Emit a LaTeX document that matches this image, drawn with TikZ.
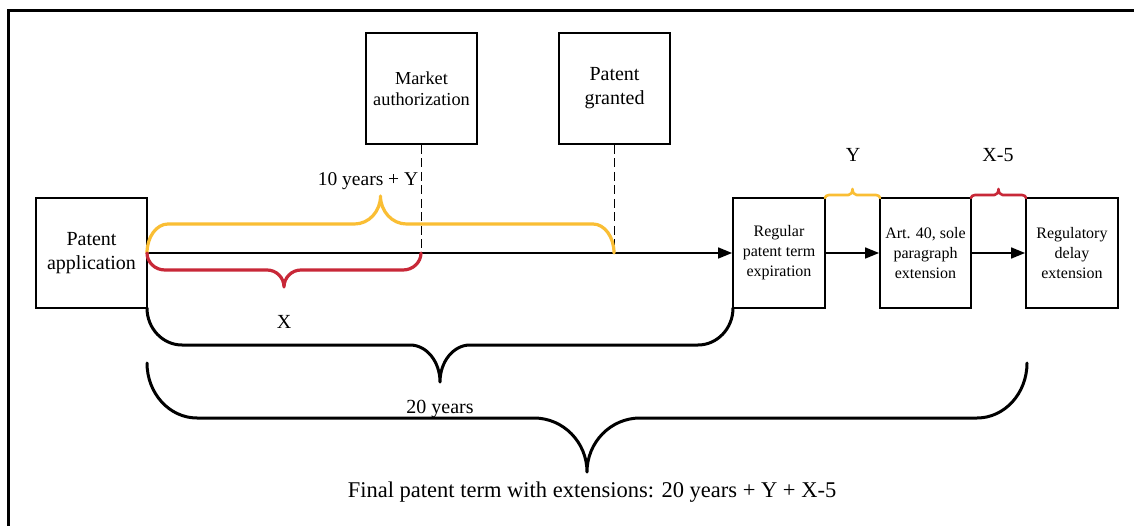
\documentclass[tikz,border=0pt]{standalone}
\usepackage{fontspec}
\setmainfont{Liberation Serif}
\usetikzlibrary{arrows.meta}
\definecolor{braceyellow}{RGB}{250,190,52}
\definecolor{bracered}{RGB}{200,40,56}
\newcommand\curlybrace[9]{% #1 style, #2 x1, #3 x2, #4 y ends, #5 y flat, #6 y tip, #7 corner r, #8 tip half width, #9 width
  \pgfmathsetmacro\cbxm{(#2+#3)/2}%
  \pgfmathsetmacro\cbA{#4+0.552*(#5-#4)}%
  \pgfmathsetmacro\cbB{#5+0.448*(#6-#5)}%
  \draw[brace,line width=#9,#1] (#2,#4) .. controls (#2,\cbA) and ({#2+0.448*#7},#5) .. ({#2+#7},#5)
     -- ({\cbxm-#8},#5) .. controls ({\cbxm-0.448*#8},#5) and (\cbxm,\cbB) .. (\cbxm,#6)
     .. controls (\cbxm,\cbB) and ({\cbxm+0.448*#8},#5) .. ({\cbxm+#8},#5)
     -- ({#3-#7},#5) .. controls ({#3-0.448*#7},#5) and (#3,\cbA) .. (#3,#4);
}
\begin{document}
\begin{tikzpicture}[x=1pt,y=-1pt,
  box/.style={draw,line width=1.9pt,inner sep=0pt,align=center},
  bigtxt/.style={font=\fontsize{20}{24}\selectfont},
  midtxt/.style={font=\fontsize{18.3}{21}\selectfont},
  smalltxt/.style={font=\fontsize{16}{20}\selectfont},
  flow/.style={line width=1.7pt,-{Triangle[length=14pt,width=11pt]}},
  guide/.style={line width=1.6pt,dash pattern=on 9pt off 4.5pt},
  brace/.style={line cap=round,line join=round},
  lbl/.style={anchor=base,inner sep=0pt}
]
\useasboundingbox (0,0) rectangle (1134,526);
\fill[white] (0,0) rectangle (1134,526);
\draw[line width=3pt] (8,526) -- (8,11) -- (1134,11);

% boxes
\node[box,bigtxt,minimum width=111pt,minimum height=110pt] (app) at (91.5,253) {Patent\\application};
\node[box,midtxt,minimum width=111pt,minimum height=111pt] (ma) at (421.5,88.5) {Market\\authorization};
\node[box,bigtxt,minimum width=111pt,minimum height=111pt] (pg) at (614.5,88.5) {Patent\\granted};
\node[box,smalltxt,minimum width=92pt,minimum height=110pt] (reg) at (779,253) {Regular\\patent term\\expiration};
\node[box,smalltxt,minimum width=91pt,minimum height=110pt] (art) at (925.5,253) {Art. 40, sole\\paragraph\\extension};
\node[box,smalltxt,minimum width=92pt,minimum height=110pt] (rde) at (1072,253) {Regulatory\\delay\\extension};

% timeline
\draw[flow] (app.east) -- (reg.west);
\draw[flow] (reg.east) -- (art.west);
\draw[flow] (art.east) -- (rde.west);

% dashed guides
\coordinate (maf) at (ma.south |- app.east);
\coordinate (pgf) at (pg.south |- app.east);
\draw[guide] (ma.south) -- (maf);
\draw[guide] (pg.south) -- (pgf);

% braces
\curlybrace{braceyellow}{147}{614}{253}{224}{196}{21}{26}{3.2pt}
\curlybrace{bracered}{147}{421}{253}{270}{287}{18}{17}{3.2pt}
\curlybrace{black}{147}{733}{308}{345}{382}{35}{30}{3pt}
\curlybrace{black}{147}{1027}{363}{418}{472}{50}{53}{3pt}
\curlybrace{braceyellow}{825}{880}{198}{195}{189}{4}{4}{2.6pt}
\curlybrace{bracered}{971}{1026}{198}{195}{189}{4}{4}{2.6pt}

% labels
\node[lbl,font=\fontsize{19.5}{24}\selectfont] (lyr) at (368,186) {10 years + Y};
\node[lbl,bigtxt] (lx) at (284,328) {X};
\node[lbl,bigtxt] (ly) at (853,162) {Y};
\node[lbl,bigtxt] (lx5) at (998,162) {X-5};
\node[lbl,bigtxt] (l20) at (440,413) {20 years};
\node[lbl,font=\fontsize{22.5}{27}\selectfont] (lfin) at (592,497) {Final patent term with extensions: 20 years + Y + X-5};
\end{tikzpicture}
\end{document}
